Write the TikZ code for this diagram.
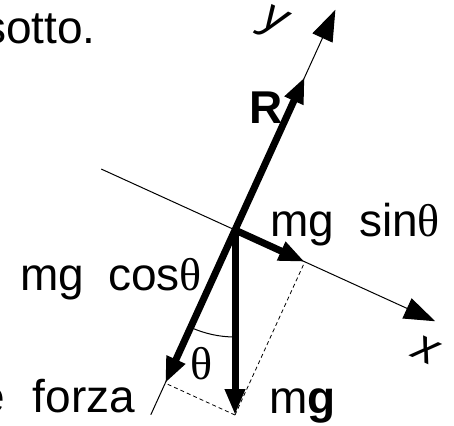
\documentclass[tikz,border=0pt]{standalone}
\usepackage{fontspec}
\setmainfont{Liberation Sans}
\newfontfamily\thfont{Liberation Serif}
\usetikzlibrary{arrows.meta,calc}
\begin{document}
\begin{tikzpicture}[x=1pt,y=-1pt,
  lbl/.style={inner sep=0pt, anchor=base west, font=\fontsize{46}{50}\selectfont},
  axislbl/.style={inner sep=0pt, font=\fontsize{46}{50}\selectfont\itshape, rotate=-24.5},
  axisline/.style={line width=1pt, -{Triangle[length=31pt,width=22pt]}},
  force/.style={line width=7pt, -{Triangle[length=26pt,width=19pt]}},
  proj/.style={line width=0.8pt, dash pattern=on 4pt off 3pt},
  thin/.style={line width=1pt},
]
\useasboundingbox (0,0) rectangle (454,425);
\coordinate (O) at (235,230);
\coordinate (xs) at ($(O)+(204.5:147)$);
\coordinate (xe) at ($(O)+(24.5:220)$);
\coordinate (yb) at ($(O)+(114.5:203)$);
\coordinate (ye) at ($(O)+(-65.5:242)$);
\coordinate (Rt) at ($(O)+(-65.5:168)$);
\coordinate (gt) at ($(O)+(90:185)$);
\coordinate (ct) at ($(O)+(114.5:168.3)$);
\coordinate (st) at ($(O)+(24.5:76.7)$);
% axes
\draw[axisline] (xs) -- (xe);
\draw[thin] (yb) -- (O);
\draw[axisline] (O) -- (ye);
% projections
\draw[proj] (gt) -- (ct);
\draw[proj] (gt) -- (st);
% angle arc
\draw[thin] ($(O)+(90:107)$) arc[start angle=90, end angle=114.5, radius=107];
% forces
\draw[force] (O) -- (Rt);
\draw[force] (O) -- (gt);
\draw[force] (O) -- (ct);
\draw[force] (O) -- (st);
% labels
\node[lbl] (sotto) at (-17,44) {sotto.};
\node[lbl] (forza) at (-21,412) {e\hskip28pt forza};
\node[lbl] (R) at (249,123) {\bfseries R};
\node[lbl] (msin) at (270,236) {mg\hskip25pt sin{\thfont θ}};
\node[lbl] (mcos) at (20,290) {mg\hskip24pt cos{\thfont θ}};
\node[lbl] (mgl) at (269,413) {m\bfseries g};
\node[inner sep=0pt, font=\fontsize{46}{50}\selectfont\thfont] (th) at (202,364) {θ};
\node[axislbl] (ylbl) at (273,24) {y};
\node[axislbl] (xlbl) at (426,350) {x};
\end{tikzpicture}
\end{document}
